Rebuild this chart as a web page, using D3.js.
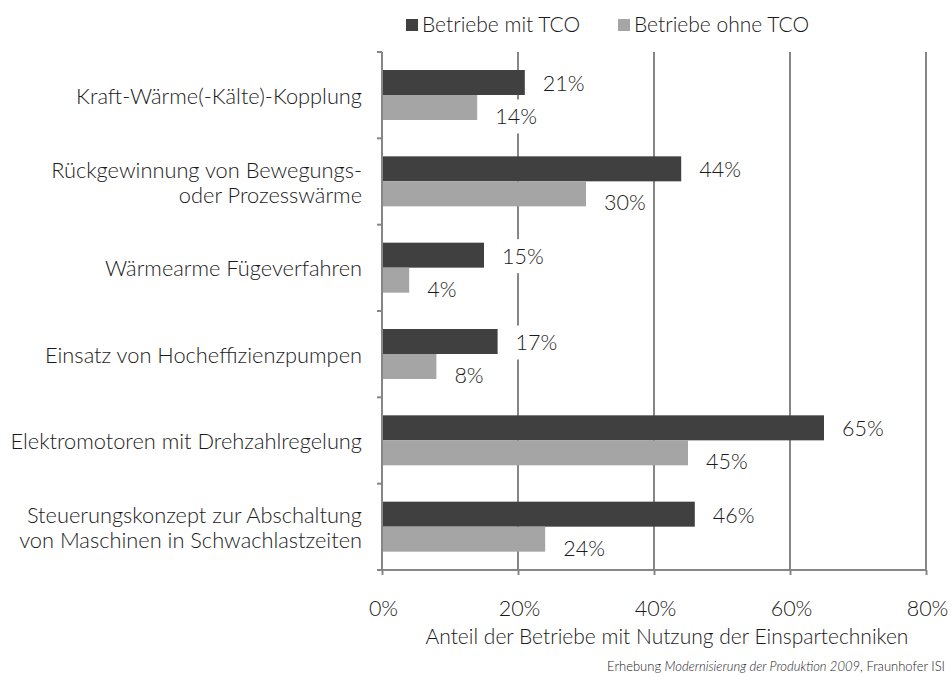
<!DOCTYPE html>
<html>
<head>
<meta charset="utf-8">
<script src="https://cdn.jsdelivr.net/npm/d3@7"></script>
<style>
  body { margin: 0; background: #fff; }
  text { font-family: Lato, "Open Sans", sans-serif; font-weight: 300; fill: #1a1a1a; }
</style>
</head>
<body>
<div id="chart"></div>
<script>
// data
var categories = [
  ["Kraft-Wärme(-Kälte)-Kopplung"],
  ["Rückgewinnung von Bewegungs-", "oder Prozesswärme"],
  ["Wärmearme Fügeverfahren"],
  ["Einsatz von Hocheffizienzpumpen"],
  ["Elektromotoren mit Drehzahlregelung"],
  ["Steuerungskonzept zur Abschaltung", "von Maschinen in Schwachlastzeiten"]
];
var mitTCO = [0.21, 0.44, 0.15, 0.17, 0.65, 0.46];
var ohneTCO = [0.14, 0.30, 0.04, 0.08, 0.45, 0.24];
var seriesNames = ["Betriebe mit TCO", "Betriebe ohne TCO"];
var xTicks = [0, 0.2, 0.4, 0.6, 0.8];
var xTitle = "Anteil der Betriebe mit Nutzung der Einspartechniken";

var width = 951, height = 678;
var plotL = 382, plotR = 926, plotT = 52, plotB = 570;
var colour = ["#404040", "#a5a5a5"];
var gridCol = "#868686";

var svg = d3.select("#chart")
.append("svg")
.attr("width", width)
.attr("height", height);

var x = d3.scaleLinear().domain([0, 0.8]).range([plotL, plotR]);
var y = d3.scaleBand().domain(d3.range(categories.length)).range([plotT, plotB]);
var inner = d3.scaleBand().domain([0, 1]).range([18, 68]);

// gridlines
svg.selectAll(".grid")
.data(xTicks.slice(1))
.enter()
.append("line")
.attr("x1", d => x(d)).attr("x2", d => x(d))
.attr("y1", plotT).attr("y2", plotB)
.style("stroke", gridCol)
.style("stroke-width", 2);

// bars
var series = [mitTCO, ohneTCO];
series.forEach(function(vals, s) {
    svg.selectAll(".bar" + s)
    .data(vals)
    .enter()
    .append("rect")
    .attr("x", x(0))
    .attr("y", (d, i) => y(i) + inner(s))
    .attr("width", d => x(d) - x(0))
    .attr("height", inner.bandwidth())
    .style("fill", colour[s]);
});

// axes
var xAxis = svg.append("g")
.attr("transform", "translate(0," + plotB + ")")
.call(d3.axisBottom(x).tickValues(xTicks).tickSize(5).tickFormat(d3.format(".0%")));
xAxis.select(".domain").style("stroke", gridCol).style("stroke-width", 2)
.attr("d", "M" + (plotL - 1) + ",0H" + (plotR + 1));
xAxis.selectAll(".tick line").style("stroke", gridCol).style("stroke-width", 2);
xAxis.selectAll(".tick text")
.attr("y", 0).attr("dy", "0.35em")
.attr("transform", "translate(1,38)")
.style("font-size", "21.5px")
.style("font-family", "Lato, sans-serif")
.style("font-weight", 300)
.style("fill", "#1a1a1a");

// y axis line with boundary ticks
svg.append("line")
.attr("x1", plotL).attr("x2", plotL)
.attr("y1", plotT).attr("y2", plotB + 1)
.style("stroke", gridCol).style("stroke-width", 2);
svg.selectAll(".ytick")
.data(d3.range(categories.length + 1))
.enter()
.append("line")
.attr("x1", plotL - 5).attr("x2", plotL)
.attr("y1", d => plotT + d * y.step())
.attr("y2", d => plotT + d * y.step())
.style("stroke", gridCol).style("stroke-width", 2);

// category labels
var cat = svg.selectAll(".cat")
.data(categories)
.enter()
.append("text")
.attr("text-anchor", "end")
.style("font-size", "21.8px");
cat.each(function(lines, i) {
    var c = y(i) + y.bandwidth() / 2 + 1;
    var t = d3.select(this);
    lines.forEach(function(l, k) {
        t.append("tspan")
        .attr("x", 362)
        .attr("y", c + (k - (lines.length - 1) / 2) * 25)
        .attr("dy", "0.35em")
        .text(l);
    });
});

// value labels with white boxes
series.forEach(function(vals, s) {
    vals.forEach(function(v, i) {
        var cy = y(i) + inner(s) + inner.bandwidth() / 2 + (s === 0 ? 1 : 9);
        var g = svg.append("g");
        var box = g.append("rect").style("fill", "#fff");
        var t = g.append("text")
        .attr("x", x(v) + 18)
        .attr("y", cy)
        .attr("dy", "0.35em")
        .style("font-size", "21.5px")
        .text(d3.format(".0%")(v));
        var w = t.node().getComputedTextLength();
        box.attr("x", x(v) + 13).attr("width", w + 10)
        .attr("y", cy - 17).attr("height", 34);
    });
});

// legend
var legendX = [406, 618];
seriesNames.forEach(function(n, s) {
    svg.append("rect")
    .attr("x", legendX[s]).attr("y", 19)
    .attr("width", 12).attr("height", 12)
    .style("fill", colour[s]);
    svg.append("text")
    .attr("x", legendX[s] + 16).attr("y", 25)
    .attr("dy", "0.35em")
    .style("font-size", "21px")
    .text(n);
});

// axis title
svg.append("text")
.attr("x", (plotL + plotR) / 2 + 13).attr("y", 637)
.attr("dy", "0.35em")
.attr("text-anchor", "middle")
.style("font-size", "21px")
.text(xTitle);

// source
var src = svg.append("text")
.attr("x", 945).attr("y", 666)
.attr("dy", "0.35em")
.attr("text-anchor", "end")
.style("font-size", "13px");
src.append("tspan").text("Erhebung ");
src.append("tspan").style("font-style", "italic").text("Modernisierung der Produktion 2009");
src.append("tspan").text(", Fraunhofer ISI");
</script>
</body>
</html>
